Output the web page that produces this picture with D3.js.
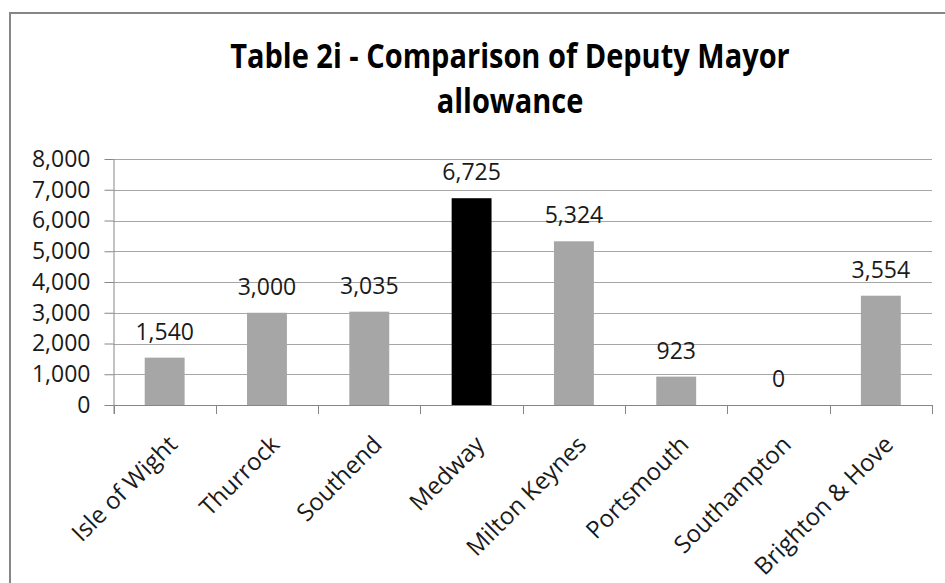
<!DOCTYPE html>
<html>
<head>
<meta charset="utf-8">
<script src="https://cdn.jsdelivr.net/npm/d3@7"></script>
<style>
  html, body { margin: 0; padding: 0; background: #fff; }
  svg { display: block; }
</style>
</head>
<body>
<svg id="chart" width="945" height="583"></svg>
<script>
const titleLines = ["Table 2i - Comparison of Deputy Mayor", "allowance"];
const categories = ["Isle of Wight", "Thurrock", "Southend", "Medway", "Milton Keynes", "Portsmouth", "Southampton", "Brighton & Hove"];
const values = [1540, 3000, 3035, 6725, 5324, 923, 0, 3554];
const highlighted = ["Medway"];
const yTicks = [0, 1000, 2000, 3000, 4000, 5000, 6000, 7000, 8000];

const svg = d3.select("#chart");
const font = "'Open Sans', 'DejaVu Sans', sans-serif";
const margin = { left: 113.5, right: 932, top: 159, bottom: 405 };

// chart frame
svg.append("rect")
  .attr("x", 10).attr("y", 13)
  .attr("width", 1100).attr("height", 800)
  .attr("fill", "#fff")
  .attr("stroke", "#868686").attr("stroke-width", 2);

// title
svg.append("text")
  .attr("x", 510).attr("y", 68)
  .attr("text-anchor", "middle")
  .attr("font-family", font).attr("font-weight", "bold")
  .attr("font-size", 29).attr("fill", "#000")
  .attr("transform", "translate(0,-10) scale(1,1.15)")
  .selectAll("tspan").data(titleLines).join("tspan")
  .attr("x", 510).attr("dy", (d, i) => i === 0 ? 0 : 39)
  .text(d => d);

const x = d3.scaleBand().domain(categories).range([margin.left, margin.right]).paddingInner(0).paddingOuter(0);
const y = d3.scaleLinear().domain([0, 8000]).range([margin.bottom, margin.top]);

// gridlines
svg.append("g")
  .selectAll("line").data(yTicks).join("line")
  .attr("x1", margin.left).attr("x2", margin.right)
  .attr("y1", d => Math.round(y(d)) + 0.5).attr("y2", d => Math.round(y(d)) + 0.5)
  .attr("stroke", "#a6a6a6").attr("stroke-width", 1);

// bars
const bw = x.bandwidth() * 0.39;
svg.append("g")
  .selectAll("rect").data(categories).join("rect")
  .attr("x", d => x(d) + (x.bandwidth() - bw) / 2)
  .attr("width", bw)
  .attr("y", (d, i) => y(values[i]))
  .attr("height", (d, i) => y(0) - y(values[i]))
  .attr("fill", d => highlighted.includes(d) ? "#000" : "#a6a6a6");

// y axis
const yAxis = d3.axisLeft(y).tickValues(yTicks).tickSize(9).tickPadding(14)
  .tickFormat(d3.format(","));
const yg = svg.append("g").attr("transform", `translate(${margin.left},0)`).call(yAxis);
yg.select(".domain").attr("stroke", "#868686").attr("d", `M0.5,${margin.top}V${margin.bottom + 9}`);
yg.selectAll(".tick line").attr("stroke", "#868686");
yg.selectAll(".tick text").attr("font-family", font).attr("font-size", 23).attr("fill", "#1a1a1a");

// x axis line + ticks at band boundaries
const xg = svg.append("g");
xg.append("line")
  .attr("x1", margin.left).attr("x2", margin.right)
  .attr("y1", margin.bottom + 0.5).attr("y2", margin.bottom + 0.5)
  .attr("stroke", "#868686");
const bounds = categories.map(c => x(c)).concat([margin.right]);
xg.selectAll("line.tk").data(bounds).join("line").attr("class", "tk")
  .attr("x1", d => Math.round(d) + 0.5).attr("x2", d => Math.round(d) + 0.5)
  .attr("y1", margin.bottom).attr("y2", margin.bottom + 9)
  .attr("stroke", "#868686");

// x labels
svg.append("g").selectAll("text").data(categories).join("text")
  .attr("transform", d => `translate(${x(d) + x.bandwidth() / 2 + 2},434) rotate(-45)`)
  .attr("text-anchor", "end")
  .attr("dy", "0.71em")
  .attr("font-family", font).attr("font-size", 24).attr("fill", "#1a1a1a")
  .text(d => d);

// value labels
svg.append("g").selectAll("text").data(categories).join("text")
  .attr("x", d => x(d) + x.bandwidth() / 2)
  .attr("y", (d, i) => y(values[i]) - 18)
  .attr("text-anchor", "middle")
  .attr("font-family", font).attr("font-size", 23).attr("fill", "#1a1a1a")
  .text((d, i) => d3.format(",")(values[i]));
</script>
</body>
</html>
